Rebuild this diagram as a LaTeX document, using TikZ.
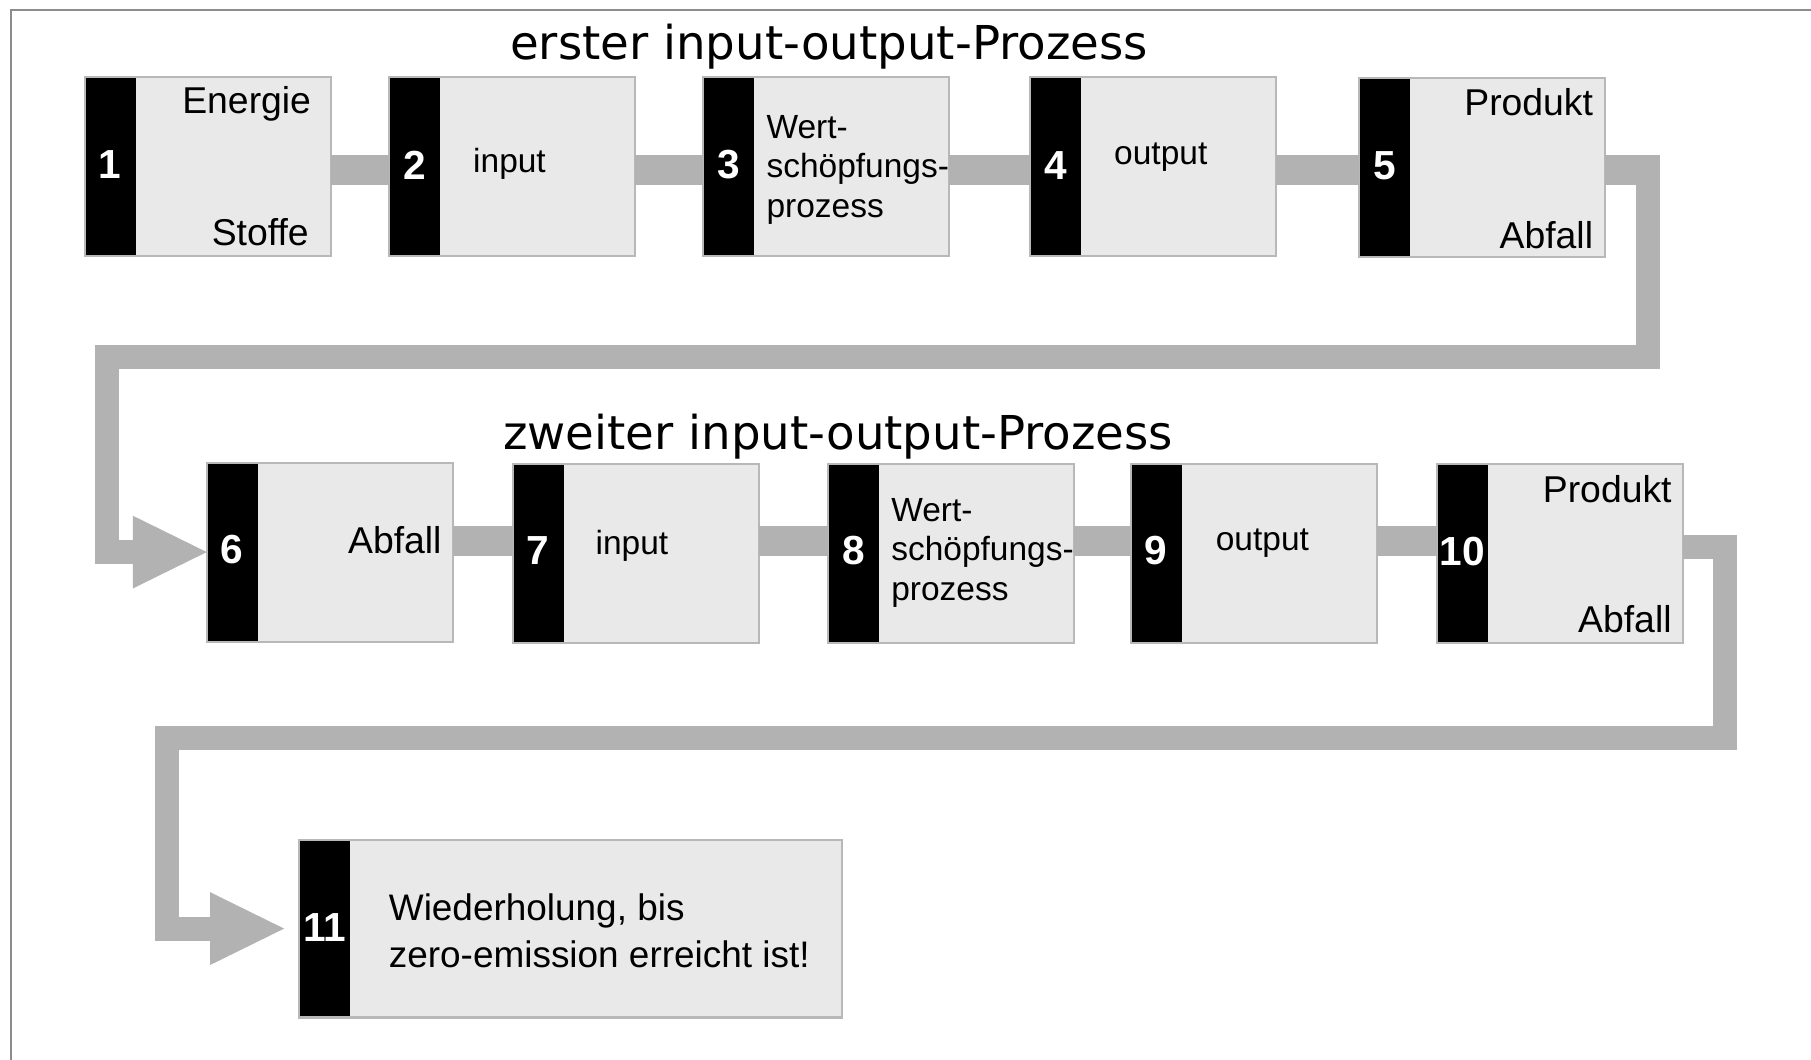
\documentclass[tikz,border=0pt]{standalone}
\usepackage{fontspec}
\setmainfont{Liberation Sans}
\newfontfamily\titlefont{DejaVu Sans}
\usetikzlibrary{arrows.meta}
\definecolor{boxfill}{HTML}{E9E9E9}
\definecolor{boxline}{HTML}{B8B8B8}
\definecolor{connc}{HTML}{B2B2B2}
\definecolor{framec}{HTML}{8C8C8C}
\begin{document}
\begin{tikzpicture}[x=0.1mm,y=-0.1mm,
  box/.style={draw=boxline, line width=0.18mm, fill=boxfill, minimum width=21.3mm, minimum height=15.5mm, inner sep=0pt, outer sep=0pt,
    path picture={\fill[black] (path picture bounding box.north west) rectangle ([xshift=4.4mm]path picture bounding box.south west);}},
  num/.style={text=white, font=\fontsize{10}{12}\selectfont\bfseries, inner sep=0pt, anchor=base},
  side/.style={font=\fontsize{9.2}{11}\selectfont, inner sep=0pt},
  inner/.style={font=\fontsize{8.25}{9.67}\selectfont, inner sep=0pt, anchor=base west, align=left},
  lasttext/.style={font=\fontsize{9.1}{11.67}\selectfont, inner sep=0pt, anchor=base west, align=left},
  conn/.style={draw=connc, line width=2.6mm},
  loopl/.style={draw=connc, line width=2.08mm, line join=miter, -{Triangle[length=6.4mm,width=6.3mm,line width=0pt]}},
  title/.style={font=\titlefont\fontsize{11.5}{14}\selectfont, inner sep=0pt, anchor=base west}
]
\useasboundingbox (0,0) rectangle (1568,917);
\draw[framec, line width=0.23mm] (9.5,920) -- (9.5,8.7) -- (1570,8.7);

% titles
\node[title] (t1) at (441,51.5) {erster input-output-Prozess};
\node[title] (t2) at (435,389) {zweiter input-output-Prozess};

% boxes row 1
\node[box] (b1) at (180,144) {};
\node[box] (b2) at (443.5,144.5) {};
\node[box] (b3) at (715.5,144.5) {};
\node[box] (b4) at (998.5,144.5) {};
\node[box] (b5) at (1283.5,145) {};
% boxes row 2
\node[box] (b6) at (285.5,478) {};
\node[box] (b7) at (550.5,479.5) {};
\node[box] (b8) at (823.5,479.5) {};
\node[box] (b9) at (1085.5,479) {};
\node[box] (b10) at (1350.5,479.5) {};
% last box
\node[box, minimum width=47mm, minimum height=15.4mm] (b11) at (494,804) {};

% numbers
\node[num] (n1) at (95,154.5) {1};
\node[num] (n2) at (359,155) {2};
\node[num] (n3) at (631,154.5) {3};
\node[num] (n4) at (914,155) {4};
\node[num] (n5) at (1199,155.5) {5};
\node[num] (n6) at (201,487.5) {6};
\node[num] (n7) at (466,489) {7};
\node[num] (n8) at (739,488.5) {8};
\node[num] (n9) at (1001,488.5) {9};
\node[num] (n10) at (1266,489.5) {10};
\node[num] (n11) at (281,815) {11};

% labels row 1
\node[side, anchor=base east] (l1a) at (270,98) {Energie};
\node[side, anchor=base east] (l1b) at (268,212.5) {Stoffe};
\node[inner] (l2) at (409,149) {input};
\node[inner] (l3) at (663,188) {Wert-\\schöpfungs-\\prozess};
\node[inner] (l4) at (964,142) {output};
\node[side, anchor=base east] (l5a) at (1380,100) {Produkt};
\node[side, anchor=base east] (l5b) at (1380,215) {Abfall};
% labels row 2
\node[side, anchor=base east] (l6) at (383,479) {Abfall};
\node[inner] (l7) at (515,480) {input};
\node[inner] (l8) at (771,519.5) {Wert-\\schöpfungs-\\prozess};
\node[inner] (l9) at (1052,477) {output};
\node[side, anchor=base east] (l10a) at (1448,435) {Produkt};
\node[side, anchor=base east] (l10b) at (1448,548) {Abfall};
% last
\node[lasttext] (l11) at (336,838) {Wiederholung, bis\\zero-emission erreicht ist!};

% connectors
\coordinate (r1) at (0,147);
\coordinate (r2) at (0,468);
\coordinate (r10) at (0,474);
\draw[conn] (b1.east |- r1) -- (b2.west |- r1);
\draw[conn] (b2.east |- r1) -- (b3.west |- r1);
\draw[conn] (b3.east |- r1) -- (b4.west |- r1);
\draw[conn] (b4.east |- r1) -- (b5.west |- r1);
\draw[conn] (b6.east |- r2) -- (b7.west |- r2);
\draw[conn] (b7.east |- r2) -- (b8.west |- r2);
\draw[conn] (b8.east |- r2) -- (b9.west |- r2);
\draw[conn] (b9.east |- r2) -- (b10.west |- r2);

% loop 1
\coordinate (k1) at (1437,147);
\coordinate (k1s) at (1427,147);
\coordinate (k2) at (93,309);
\draw[conn] (b5.east |- r1) -- (k1);
\draw[loopl] (k1s) |- (k2) |- (b6.west);

% loop 2
\coordinate (k3) at (1493.5,639);
\coordinate (k4) at (145,639);
\coordinate (k5) at (246,804);
\draw[loopl] (b10.east |- r10) -| (k3) -- (k4) |- (k5);
\end{tikzpicture}
\end{document}
